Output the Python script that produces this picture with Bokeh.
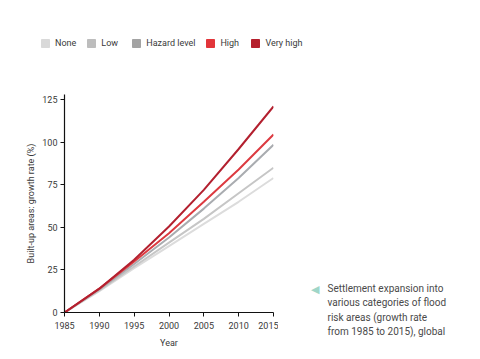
from bokeh.plotting import figure
from bokeh.layouts import column, row
from bokeh.models import Legend, LegendItem, Label, Range1d, FixedTicker
from bokeh.embed import file_html
from bokeh.resources import INLINE

years = [1985, 1990, 1995, 2000, 2005, 2010, 2015]
none_vals = [0, 12.5, 26, 39, 52, 65, 79]
low_vals = [0, 13, 27, 41, 55, 70, 85]
hazard_vals = [0, 13.5, 28.5, 44, 61, 79, 98.5]
high_vals = [0, 14, 30, 46.5, 65, 84, 104.5]
very_high_vals = [0, 14, 31, 50.5, 72, 96, 121]

series_names = ["None", "Low", "Hazard level", "High", "Very high"]
line_colors = ["#dcdcdc", "#c6c6c6", "#a9acb0", "#dc3a40", "#b3202f"]
legend_colors = ["#d9d9d9", "#bdbdbd", "#a3a3a3", "#e2353a", "#b51f2c"]
y_ticks = [0, 25, 50, 75, 100, 125]
x_ticks = [1985, 1990, 1995, 2000, 2005, 2010, 2015]
note_lines = ["Settlement expansion into", "various categories of flood",
              "risk areas (growth rate", "from 1985 to 2015), global"]

FONT = "Roboto"
TXT = "#3a3a3a"


def bare(fig):
    fig.outline_line_color = None
    fig.grid.grid_line_color = None
    fig.axis.visible = False
    return fig


# ---- legend strip ----
lf = bare(figure(width=464, height=50, output_backend="svg", toolbar_location=None,
                 x_range=Range1d(0, 1), y_range=Range1d(0, 1),
                 min_border=0, min_border_left=0, min_border_right=0,
                 min_border_top=0, min_border_bottom=0))
items = []
for name, c in zip(series_names, legend_colors):
    r = lf.quad(left=[5], right=[6], bottom=[5], top=[6], fill_color=c, line_color=c)
    items.append(LegendItem(label=name, renderers=[r]))
legend = Legend(items=items, orientation="horizontal", location=(40, 2),
                glyph_width=10, glyph_height=10, label_text_font=FONT,
                label_text_font_size="9px", label_text_color=TXT,
                label_height=10, label_standoff=5, spacing=10, padding=0, margin=0,
                border_line_color=None, background_fill_alpha=0)
lf.add_layout(legend, "center")

# ---- main chart ----
p = figure(width=278, height=301, output_backend="svg", toolbar_location=None,
           x_range=Range1d(1985, 2015), y_range=Range1d(0, 128),
           min_border_left=64, min_border_right=5, min_border_top=44, min_border_bottom=39)
p.outline_line_color = None
p.grid.grid_line_color = None

all_vals = [none_vals, low_vals, hazard_vals, high_vals, very_high_vals]
for vals, c in zip(all_vals, line_colors):
    p.line(years, vals, line_color=c, line_width=2)

for ax in (p.xaxis[0], p.yaxis[0]):
    ax.axis_line_color = "#111111"
    ax.axis_line_width = 1.2
    ax.major_tick_line_color = "#111111"
    ax.major_tick_out = 4
    ax.major_tick_in = 0
    ax.minor_tick_line_color = None
    ax.major_label_text_font = FONT
    ax.major_label_text_font_size = "9px"
    ax.major_label_text_color = TXT
    ax.axis_label_text_font = FONT
    ax.axis_label_text_font_size = "9px"
    ax.axis_label_text_font_style = "normal"
    ax.axis_label_text_color = TXT

p.xaxis.ticker = FixedTicker(ticks=x_ticks)
p.yaxis.ticker = FixedTicker(ticks=y_ticks)
p.xaxis.axis_label = "Year"
p.yaxis.axis_label = "Built-up areas: growth rate (%)"
p.xaxis.major_label_standoff = 5
p.yaxis.major_label_standoff = 3
p.xaxis.axis_label_standoff = 6
p.yaxis.axis_label_standoff = 3

# ---- side note ----
nf = bare(figure(width=186, height=301, output_backend="svg", toolbar_location=None,
                 x_range=Range1d(0, 186), y_range=Range1d(0, 301),
                 min_border=0, min_border_left=0, min_border_right=0,
                 min_border_top=0, min_border_bottom=0))
nf.add_layout(Label(x=36, y=63, x_units="screen", y_units="screen", text="\u25C0",
                    text_color="#9fd6c8", text_font_size="11px",
                    text_align="center", text_baseline="middle"))
for i, t in enumerate(note_lines):
    nf.add_layout(Label(x=49, y=62.7 - i * 14.1, x_units="screen", y_units="screen",
                        text=t, text_font=FONT, text_font_size="10px",
                        text_color="#4a4a4a", text_baseline="middle"))

layout = column(lf, row(p, column(nf)), spacing=0)
open("out.html", "w").write(file_html(layout, INLINE))
